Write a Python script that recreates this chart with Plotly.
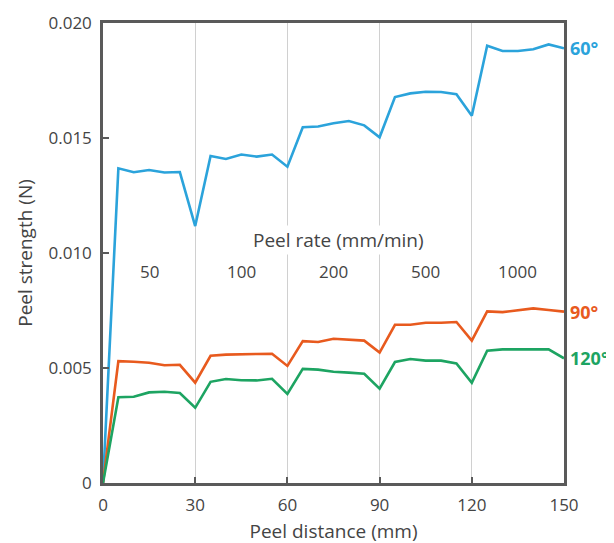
import plotly.graph_objects as go

distance = [0, 5, 10, 15, 20, 25, 30, 35, 40, 45, 50, 55, 60, 65, 70, 75, 80, 85, 90, 95, 100,
            105, 110, 115, 120, 125, 130, 135, 140, 145, 150]
peel_60 = [0, 0.01368, 0.01351, 0.01361, 0.01350, 0.01352, 0.01117, 0.01422, 0.01409, 0.01428,
           0.01419, 0.01428, 0.01375, 0.01547, 0.01550, 0.01564, 0.01574, 0.01555, 0.01503,
           0.01678, 0.01694, 0.01701, 0.01700, 0.01690, 0.01597, 0.01901, 0.01878, 0.01878,
           0.01886, 0.01907, 0.01890]
peel_90 = [0, 0.00530, 0.00527, 0.00523, 0.00512, 0.00514, 0.00436, 0.00553, 0.00558, 0.00561,
           0.00561, 0.00562, 0.00509, 0.00617, 0.00613, 0.00627, 0.00623, 0.00619, 0.00567,
           0.00688, 0.00688, 0.00697, 0.00697, 0.00700, 0.00619, 0.00746, 0.00743, 0.00752,
           0.00759, 0.00752, 0.00745]
peel_120 = [0, 0.00373, 0.00375, 0.00394, 0.00397, 0.00391, 0.00327, 0.00440, 0.00452, 0.00447,
            0.00446, 0.00453, 0.00387, 0.00496, 0.00493, 0.00484, 0.00480, 0.00475, 0.00410,
            0.00526, 0.00539, 0.00532, 0.00532, 0.00520, 0.00436, 0.00575, 0.00581, 0.00581,
            0.00581, 0.00581, 0.00542]

series_names = ["60°", "90°", "120°"]
series_colors = ["#2BA3DB", "#E85A1E", "#1DA462"]

rate_labels = ["50", "100", "200", "500", "1000"]
rate_centers = [15, 45, 75, 105, 135]
rate_title = "Peel rate (mm/min)"

x_ticks = [0, 30, 60, 90, 120, 150]
y_ticks = [0, 0.005, 0.010, 0.015, 0.020]
y_ticktext = ["0", "0.005", "0.010", "0.015", "0.020"]

FONT = "Open Sans, Noto Sans, sans-serif"
GRAY = "#444444"
AXIS = "#5a5a5a"

fig = go.Figure()
for ys, name, col in zip([peel_60, peel_90, peel_120], series_names, series_colors):
    fig.add_trace(go.Scatter(x=distance, y=ys, mode="lines", name=name,
                             line=dict(color=col, width=2.6), showlegend=False))
    fig.add_annotation(x=distance[-1], y=ys[-1], text="<b>%s</b>" % name, showarrow=False,
                       xanchor="left", yanchor="middle", xshift=4,
                       font=dict(family=FONT, size=18, color=col))

fig.add_annotation(x=76.5, y=0.01057, text=rate_title, showarrow=False, bgcolor="white",
                   font=dict(family=FONT, size=19, color=GRAY))
for lbl, xc in zip(rate_labels, rate_centers):
    fig.add_annotation(x=xc, y=0.00919, text=lbl, showarrow=False,
                       font=dict(family=FONT, size=17, color=GRAY))

fig.update_layout(
    width=614, height=543,
    margin=dict(l=95, r=58, t=15, b=68, autoexpand=False),
    plot_bgcolor="white", paper_bgcolor="white",
    font=dict(family=FONT, size=16, color=GRAY),
)
fig.update_xaxes(range=[0, 150], tickvals=x_ticks, showgrid=True, gridcolor="#d0d0d0",
                 gridwidth=1, zeroline=False, showline=True, linecolor=AXIS, linewidth=2.5,
                 mirror=True, ticks="inside", ticklen=6, tickwidth=2, tickcolor=AXIS,
                 ticklabelstandoff=5, automargin=False,
                 title=dict(text="Peel distance (mm)", standoff=10,
                            font=dict(family=FONT, size=19, color=GRAY)),
                 tickfont=dict(family=FONT, size=17, color=GRAY))
fig.update_yaxes(range=[0, 0.020], tickvals=y_ticks, ticktext=y_ticktext, showgrid=False,
                 zeroline=False, showline=True, linecolor=AXIS, linewidth=2.5, mirror=True,
                 ticks="inside", ticklen=6, tickwidth=2, tickcolor=AXIS,
                 ticklabelstandoff=5, automargin=False,
                 title=dict(text="Peel strength (N)", standoff=11,
                            font=dict(family=FONT, size=19, color=GRAY)),
                 tickfont=dict(family=FONT, size=17, color=GRAY))

fig.write_html("out.html")
